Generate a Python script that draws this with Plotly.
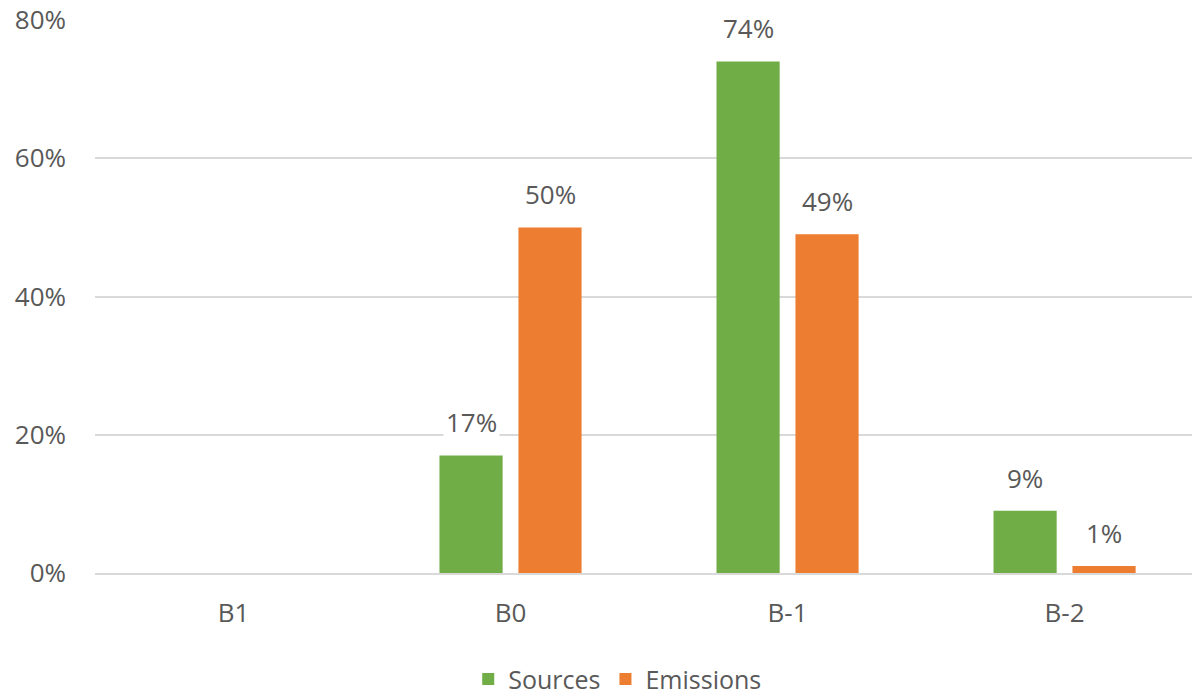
import plotly.graph_objects as go

categories = ["B1", "B0", "B-1", "B-2"]
sources = [None, 17, 74, 9]
emissions = [None, 50, 49, 1]
series_names = ["Sources", "Emissions"]
series_colors = ["#70AD47", "#ED7D31"]
y_ticks = [0, 20, 40, 60, 80]
y_tick_text = ["0%", "20%", "40%", "60%", "80%"]

FONT = "Open Sans, Calibri, sans-serif"
TEXT_GREY = "#595959"
FONT_SIZE = 26

fig = go.Figure()
for name, vals, color in zip(series_names, [sources, emissions], series_colors):
    fig.add_trace(go.Bar(
        x=categories, y=vals, name=name,
        marker=dict(color=color, line=dict(width=0)),
    ))

# value labels with a white box so they sit on top of the gridlines
shifts = [-39.5, 39.5]
for vals, dx in zip([sources, emissions], shifts):
    for cat, v in zip(categories, vals):
        if v is None:
            continue
        fig.add_annotation(
            x=cat, y=v, text=f"{v}%", showarrow=False,
            xshift=dx, yshift=33, yanchor="middle",
            bgcolor="white", borderpad=2,
            font=dict(family=FONT, size=FONT_SIZE, color=TEXT_GREY),
        )

fig.update_layout(
    width=1192, height=696,
    margin=dict(l=95, r=0, t=20, b=123, autoexpand=False),
    paper_bgcolor="white", plot_bgcolor="white",
    barmode="group", bargap=0.43, bargroupgap=0.2,
    font=dict(family=FONT, size=FONT_SIZE, color=TEXT_GREY),
    showlegend=True,
    legend=dict(
        orientation="h", x=0.4765, xanchor="center", y=-0.192, yanchor="middle",
        font=dict(family=FONT, size=25, color=TEXT_GREY),
        itemwidth=30, traceorder="normal",
    ),
    xaxis=dict(
        range=[-0.5, 3.46],
        showgrid=False, showline=True, linecolor="#D9D9D9", linewidth=2,
        ticks="", ticklabelstandoff=16,
        tickfont=dict(family=FONT, size=FONT_SIZE, color=TEXT_GREY),
    ),
    yaxis=dict(
        range=[0, 80], tickvals=y_ticks, ticktext=y_tick_text,
        showgrid=True, gridcolor="#D9D9D9", gridwidth=2,
        zeroline=False, showline=False, ticks="", ticklabelstandoff=28,
        tickfont=dict(family=FONT, size=FONT_SIZE, color=TEXT_GREY),
    ),
)

fig.write_html("out.html")
